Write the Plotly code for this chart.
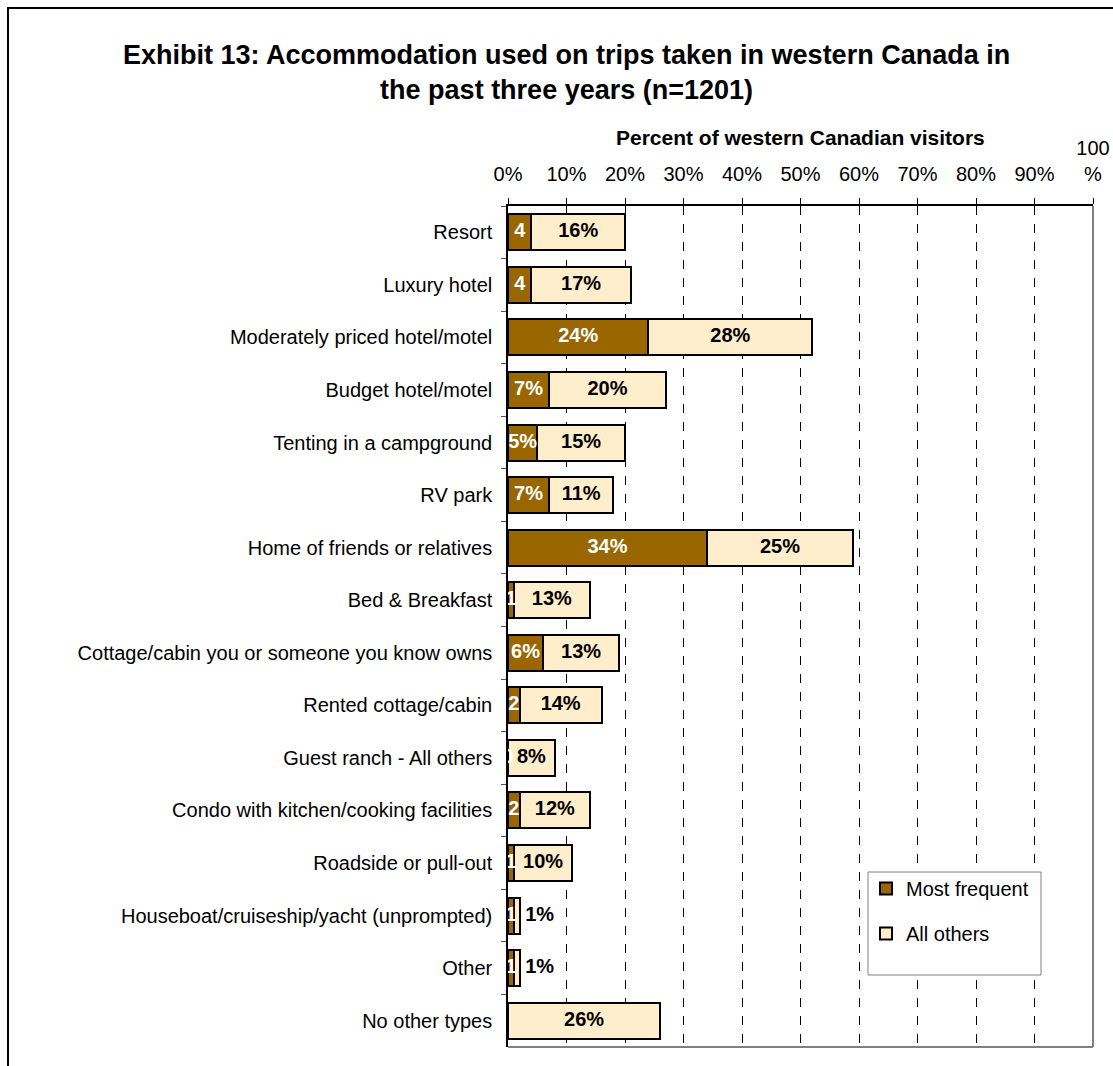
import plotly.graph_objects as go

# Accommodation types, top to bottom
categories = [
    "Resort",
    "Luxury hotel",
    "Moderately priced hotel/motel",
    "Budget hotel/motel",
    "Tenting in a campground",
    "RV park",
    "Home of friends or relatives",
    "Bed & Breakfast",
    "Cottage/cabin you or someone you know owns",
    "Rented cottage/cabin",
    "Guest ranch - All others",
    "Condo with kitchen/cooking facilities",
    "Roadside or pull-out",
    "Houseboat/cruiseship/yacht (unprompted)",
    "Other",
    "No other types",
]

# Percent of western Canadian visitors
most_frequent = [4, 4, 24, 7, 5, 7, 34, 1, 6, 2, 0, 2, 1, 1, 1, 0]
all_others = [16, 17, 28, 20, 15, 11, 25, 13, 13, 14, 8, 12, 10, 1, 1, 26]

tick_values = [0, 10, 20, 30, 40, 50, 60, 70, 80, 90, 100]
tick_labels = ["0%", "10%", "20%", "30%", "40%", "50%", "60%", "70%", "80%", "90%", "100<br>%"]

BROWN = "#996600"
CREAM = "#FFEECC"
FONT = "Liberation Sans, Arial, sans-serif"
LABEL_SIZE = 20


def mf_text(v, cat):
    if cat == "No other types":
        return ""
    return f"{v}%" if v >= 5 else f"{v}"


fig = go.Figure()

fig.add_trace(go.Bar(
    name="Most frequent", y=categories, x=most_frequent, orientation="h",
    marker=dict(color=BROWN, line=dict(color="black", width=2)),
    legendgroup="a", hoverinfo="x+y",
))
fig.add_trace(go.Bar(
    name="All others", y=categories, x=all_others, orientation="h",
    marker=dict(color=CREAM, line=dict(color="black", width=2)),
    legendgroup="b", hoverinfo="x+y",
))

# Segment labels
fig.add_trace(go.Scatter(
    y=categories,
    x=[v / 2 for v in most_frequent],
    text=[mf_text(v, c) for v, c in zip(most_frequent, categories)],
    mode="text", textposition="middle center",
    textfont=dict(family=FONT, size=LABEL_SIZE, color="white", weight="bold"),
    showlegend=False, hoverinfo="skip",
))

inside_y, inside_x, inside_t = [], [], []
outside_y, outside_x, outside_t = [], [], []
for c, m, a in zip(categories, most_frequent, all_others):
    if a >= 3:
        inside_y.append(c)
        inside_x.append(m + a / 2)
        inside_t.append(f"{a}%")
    else:
        outside_y.append(c)
        outside_x.append(m + a)
        outside_t.append(f"{a}%")

fig.add_trace(go.Scatter(
    y=inside_y, x=inside_x, text=inside_t,
    mode="text", textposition="middle center",
    textfont=dict(family=FONT, size=LABEL_SIZE, color="black", weight="bold"),
    showlegend=False, hoverinfo="skip",
))
fig.add_trace(go.Scatter(
    y=outside_y, x=outside_x, text=[" " + t for t in outside_t],
    mode="text", textposition="middle right",
    textfont=dict(family=FONT, size=LABEL_SIZE, color="black", weight="bold"),
    showlegend=False, hoverinfo="skip", cliponaxis=False,
))

# Position helpers (paper coordinates relative to the plot area)
plot_l, plot_r, plot_t, plot_b = 508, 1093, 206, 1047
def px(xp):
    return (xp - plot_l) / (plot_r - plot_l)
def py(yp):
    return (plot_b - yp) / (plot_b - plot_t)

n_cat = len(categories)

fig.update_layout(
    width=1113, height=1066,
    margin=dict(l=plot_l, r=1113 - plot_r, t=plot_t, b=1066 - plot_b, autoexpand=False),
    paper_bgcolor="white", plot_bgcolor="white",
    barmode="stack", bargap=0.316,
    font=dict(family=FONT, size=LABEL_SIZE, color="black"),
    showlegend=True,
    legend=dict(
        x=px(866), y=py(869), xanchor="left", yanchor="top",
        bgcolor="rgba(0,0,0,0)", borderwidth=0,
        font=dict(family=FONT, size=20, color="black"),
        tracegroupgap=16, traceorder="grouped", itemwidth=30,
    ),
    xaxis=dict(
        side="top", range=[0, 100], tickvals=tick_values, ticktext=tick_labels,
        showgrid=True, gridcolor="black", griddash="dash", gridwidth=1,
        zeroline=False, showline=True, linecolor="black", linewidth=1.5,
        ticks="outside", ticklen=6, tickcolor="black", ticklabelstandoff=9,
        tickfont=dict(family=FONT, size=20, color="black"), automargin=False,
    ),
    yaxis=dict(
        categoryorder="array", categoryarray=categories,
        range=[n_cat - 0.5, -0.5], autorange=False,
        showline=True, linecolor="black", linewidth=1.5,
        ticks="outside", ticklen=5, tickcolor="#555555", tickson="boundaries",
        ticklabelstandoff=10, showgrid=False, automargin=False,
        tickfont=dict(family=FONT, size=LABEL_SIZE, color="black"),
    ),
    annotations=[
        dict(
            text="<b>Exhibit 13: Accommodation used on trips taken in western Canada in<br>the past three years (n=1201)</b>",
            xref="paper", yref="paper", x=px(566), y=py(72),
            xanchor="center", yanchor="middle",
            showarrow=False, font=dict(family=FONT, size=27, color="black"),
        ),
        dict(
            text="<b>Percent of western Canadian visitors</b>",
            xref="paper", yref="paper", x=px(800), y=py(137),
            xanchor="center", yanchor="middle",
            showarrow=False, font=dict(family=FONT, size=21, color="black"),
        ),
    ],
    shapes=[
        # right and bottom edges of the plot area
        dict(type="line", xref="paper", yref="paper", x0=1, x1=1, y0=0, y1=1,
             line=dict(color="#808080", width=2), layer="above"),
        dict(type="line", xref="paper", yref="paper", x0=0, x1=1, y0=0, y1=0,
             line=dict(color="#808080", width=2), layer="above"),
        # legend box
        dict(type="rect", xref="paper", yref="paper",
             x0=px(868), x1=px(1041), y0=py(975), y1=py(872),
             line=dict(color="#808080", width=1), fillcolor="white", layer="above"),
        # outer chart frame
        dict(type="rect", xref="paper", yref="paper",
             x0=px(8), x1=px(1130), y0=py(1080), y1=py(8),
             line=dict(color="black", width=2), fillcolor="rgba(0,0,0,0)", layer="above"),
    ],
)

fig.write_html("out.html")
